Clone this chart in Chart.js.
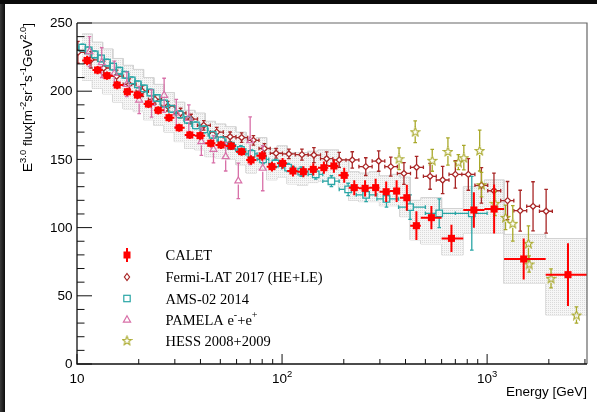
<!DOCTYPE html>
<html lang="en">
<head>
<meta charset="UTF-8">
<title>Electron + positron spectrum</title>
<script src="https://cdn.jsdelivr.net/npm/chart.js"></script>
<style>
  html, body { margin: 0; padding: 0; background: #fff; }
</style>
</head>
<body>
<canvas id="spectrum" width="597" height="412"></canvas>
<script>
// axis ranges
const xMin = 10, xMax = 3070, yMin = 0, yMax = 250;
const yTickLabels = ['0', '50', '100', '150', '200', '250'];
const xMajorTicks = [10, 100, 1000];
const xTickLabels = [['10', ''], ['10', '2'], ['10', '3']];

// CALET (filled squares) + its grey systematic band
const caletE = [11.2, 12.6, 14.0, 15.7, 17.6, 19.7, 22.3, 24.9, 28.1, 31.5, 35.5, 39.8, 44.9, 50.4, 56.5, 63.5, 70.6, 80.0, 89.3, 100.6,
                113, 127, 142, 160, 179, 201, 225, 254, 286, 322, 362, 406, 452, 535, 670, 862, 1082, 1508, 2480];
const caletFlux = [222.5, 215.5, 211.4, 204.5, 199.6, 197.2, 190.6, 186.0, 180.6, 173.2, 167.9, 167.4, 161.8, 160.6, 159.8, 155.7, 149.6, 152.6, 144.7, 147.1,
                   141.5, 141.0, 142.7, 143.9, 145.2, 138.3, 129.3, 128.8, 129.3, 126.3, 126.8, 121.9, 101.4, 107.3, 92.1, 112.9, 113.6, 77.0, 65.5];
const caletErr = [3.5, 3, 3, 3, 3, 3, 3, 3, 3, 3, 3, 3, 3, 3, 3, 3, 3.5, 3.5, 3.5, 4,
                  4, 4, 4.5, 4.5, 5, 5.5, 5.5, 6, 6.5, 7.5, 8, 9.5, 10.5, 8.5, 10, 13, 18, 15, 23];
const caletEdges = [10.59, 11.89, 13.34, 14.96, 16.79, 18.84, 21.13, 23.71, 26.61, 29.85, 33.50, 37.58, 42.17, 47.32, 53.09, 59.57, 66.83, 74.99, 84.14, 94.41,
                    105.9, 118.9, 133.4, 149.6, 167.9, 188.4, 211.3, 237.1, 266.1, 298.5, 335.0, 375.8, 421.7, 475, 600, 765, 970, 1210, 1930, 3160];
const caletSysLo = [208, 202, 198, 192, 187, 185, 179, 175, 170, 163, 158, 157, 152, 151, 150, 146, 140, 143, 135, 137,
                    132, 131, 133, 134, 136, 129, 120, 119, 119, 116, 116, 108, 91, 88, 80, 96, 96, 59, 36];
const caletSysHi = [242, 236, 231, 224, 219, 216, 210, 205, 199, 192, 186, 184, 178, 176, 174, 170, 164, 166, 158, 160,
                    155, 155, 156, 157, 157, 150, 141, 140, 141, 138, 139, 137, 120, 122, 114, 130, 135, 95, 92];

// Fermi-LAT 2017 (HE+LE)
const fermiE = [10.1, 11.7, 13.5, 15.6, 18.0, 20.8, 24.0, 27.7, 32.0, 36.0, 41.5, 48.0, 55.8, 63.5, 72.5, 82, 93.5, 108, 125, 143,
                165, 190, 220, 256, 296, 339, 393, 453, 527, 607, 700, 810, 938, 1080, 1258, 1450, 1675, 1940];
const fermiFlux = [228.5, 223, 217, 211, 205, 200, 194, 189, 184, 179.6, 175, 170, 166.6, 166, 164, 158, 154.5, 154, 153.5, 153.2,
                   150.5, 149.6, 149.6, 144.7, 148.8, 144.7, 139.7, 144.2, 137.6, 134.9, 139, 139, 131, 127, 119.8, 112.4, 115.6, 112];
const fermiErr = [8, 6, 5, 4.5, 4, 4, 3.5, 3.5, 3.5, 3.5, 3.5, 3.5, 3.5, 3.5, 3.5, 3.5, 3.5, 3.5, 4, 5.5,
                  5, 5.5, 6, 6.5, 7.5, 7, 8, 8, 9.5, 10, 10, 11.6, 13, 13, 14, 15, 18, 16];
const fermiEdges = [9.4, 10.9, 12.6, 14.5, 16.8, 19.4, 22.3, 25.8, 29.8, 34.0, 38.7, 44.7, 51.7, 59.6, 68.0, 77.2, 87.6, 100.5, 116, 134,
                    154, 177, 205, 237, 275, 317, 365, 423, 489, 565, 652, 753, 872, 1007, 1165, 1350, 1560, 1800, 2080];

// AMS-02 2014
const amsE = [10.6, 11.4, 12.2, 13.1, 14.0, 15.0, 16.1, 17.2, 18.5, 19.8, 21.2, 22.8, 24.5, 26.6, 29.0, 31.7, 34.7, 38.0, 41.7, 45.9,
              50.7, 56.3, 63.0, 71.0, 80.8, 92.8, 107, 124, 146, 174, 210, 257, 323, 421, 584, 842];
const amsFlux = [232, 230, 227, 224, 221, 218, 215, 212, 208, 205, 202, 199, 195, 191, 187, 183, 179, 175, 172, 168,
                 164, 160, 157, 154, 150, 147, 144, 141, 139, 134, 128, 124, 121, 115, 110.5, 110.5];
const amsErr = [2.5, 2.5, 2.5, 2.5, 2.5, 2.5, 2.5, 2.5, 2.5, 2.5, 2.5, 2.5, 2.5, 2.5, 2.5, 2.5, 2.5, 2.5, 2.5, 2.5,
                2.5, 2.5, 3, 3, 3, 3, 3, 3.5, 3.5, 4, 4.5, 5, 6, 9, 10.5, 27];
const amsEdges = [10.2, 11.0, 11.8, 12.6, 13.6, 14.5, 15.6, 16.6, 17.9, 19.2, 20.5, 22.0, 23.6, 25.4, 27.9, 30.2, 33.2, 36.3, 39.8, 43.6,
                  48.2, 53.3, 59.4, 66.6, 75.6, 86.2, 99.6, 115, 134, 158, 190, 230, 290, 370, 500, 700, 1000];

// PAMELA e- + e+
const pamelaE = [11.5, 13.2, 15.2, 17.5, 20.1, 23.1, 26.6, 30.5, 35.1, 40.4, 46.3, 53.1, 61.2, 69.9, 80.5];
const pamelaFlux = [229, 221, 213, 205, 193.5, 191, 197, 184, 180, 163, 157.4, 152, 134.2, 163.7, 143.5];
const pamelaErr = [11, 11, 9, 9, 10, 10, 12.5, 10, 10, 10, 10, 10.5, 13, 17.5, 16.5];

// HESS 2008+2009
const hessE = [372, 446, 540, 644, 724, 770, 920, 939, 1092, 1230, 1334, 1591, 1603, 2050, 2727];
const hessFlux = [150.5, 170.3, 149.3, 155.8, 148, 151.3, 156.5, 131.5, 117.8, 107.5, 103.1, 88.5, 73.3, 62.8, 35.9];
const hessErr = [8, 8, 8, 10, 5.5, 9, 15, 9, 9, 9, 13, 12.8, 6, 7, 6];

const legendLabels = ['CALET', 'Fermi-LAT 2017 (HE+LE)', 'AMS-02 2014', 'PAMELA e-+e+', 'HESS 2008+2009'];

const colCalet = '#ff0000', colFermi = '#a82626', colAms = '#2aa6a6', colPamela = '#d870a8', colHess = '#a8a828';

const canvas = document.getElementById('spectrum');
const mainCtx = canvas.getContext('2d');

function makeStar(color) {
  const c = document.createElement('canvas');
  c.width = 11; c.height = 11;
  const g = c.getContext('2d');
  g.strokeStyle = color; g.lineWidth = 1.1;
  g.beginPath();
  for (let k = 0; k < 10; k++) {
    const r = k % 2 ? 2.0 : 4.7;
    const a = -Math.PI / 2 + k * Math.PI / 5;
    const px = 5.5 + r * Math.cos(a), py = 5.9 + r * Math.sin(a);
    if (k) g.lineTo(px, py); else g.moveTo(px, py);
  }
  g.closePath(); g.stroke();
  return c;
}

function makeDots() {
  const c = document.createElement('canvas');
  c.width = 2; c.height = 2;
  const g = c.getContext('2d');
  g.fillStyle = '#f6f6f6'; g.fillRect(0, 0, 2, 2);
  g.fillStyle = '#dadada'; g.fillRect(0, 0, 1, 1);
  return mainCtx.createPattern(c, 'repeat');
}

const starImg = makeStar(colHess);
const pts = (xs, ys) => xs.map((x, i) => ({ x: x, y: ys[i] }));

// band outline: flat across each CALET bin
const bandHi = [], bandLo = [];
caletE.forEach((e, i) => {
  bandHi.push({ x: caletEdges[i], y: caletSysHi[i] }, { x: caletEdges[i + 1], y: caletSysHi[i] });
  bandLo.push({ x: caletEdges[i], y: caletSysLo[i] }, { x: caletEdges[i + 1], y: caletSysLo[i] });
});

function drawErrorBars(chart, ds) {
  const g = chart.ctx, xs = chart.scales.x, ys = chart.scales.y, a = chart.chartArea;
  const gap = ds.errGap || 0, cap = ds.errCap || 0;
  g.save();
  g.beginPath(); g.rect(a.left, a.top, a.right - a.left, a.bottom - a.top); g.clip();
  g.strokeStyle = ds.errColor; g.lineWidth = ds.errWidth;
  g.beginPath();
  ds.data.forEach((p, i) => {
    const px = xs.getPixelForValue(p.x), py = ys.getPixelForValue(p.y);
    const yTop = ys.getPixelForValue(p.y + ds.errY[i]);
    const yBot = ys.getPixelForValue(p.y - ds.errY[i]);
    if (py - gap > yTop) { g.moveTo(px, py - gap); g.lineTo(px, yTop); }
    if (py + gap < yBot) { g.moveTo(px, py + gap); g.lineTo(px, yBot); }
    if (cap) {
      g.moveTo(px - cap, yTop); g.lineTo(px + cap, yTop);
      g.moveTo(px - cap, yBot); g.lineTo(px + cap, yBot);
    }
    if (ds.xEdges) {
      const xl = xs.getPixelForValue(ds.xEdges[i]), xr = xs.getPixelForValue(ds.xEdges[i + 1]);
      if (px - gap > xl) { g.moveTo(px - gap, py); g.lineTo(xl, py); }
      if (px + gap < xr) { g.moveTo(px + gap, py); g.lineTo(xr, py); }
      if (cap) {
        g.moveTo(xl, py - cap); g.lineTo(xl, py + cap);
        g.moveTo(xr, py - cap); g.lineTo(xr, py + cap);
      }
    }
  });
  g.stroke();
  g.restore();
}

// text with superscripts: parts = [[text, isSup], ...]
function drawRich(g, parts, x, y, align, size, family) {
  const widths = parts.map(([t, s]) => {
    g.font = (s ? size * 0.7 : size) + 'px ' + family;
    return g.measureText(t).width;
  });
  const total = widths.reduce((p, q) => p + q, 0);
  let cx = align === 'right' ? x - total : align === 'center' ? x - total / 2 : x;
  g.textAlign = 'left'; g.textBaseline = 'alphabetic';
  parts.forEach(([t, s], i) => {
    g.font = (s ? size * 0.7 : size) + 'px ' + family;
    g.fillText(t, cx, s ? y - size * 0.42 : y);
    cx += widths[i];
  });
}

function legendMarker(g, i, x, y) {
  g.save();
  g.lineWidth = 1.2;
  if (i === 0) {
    g.fillStyle = colCalet; g.fillRect(x - 3.5, y - 3.5, 7, 7);
    g.fillRect(x - 1, y - 7, 2, 14);
  } else if (i === 1) {
    g.strokeStyle = colFermi; g.beginPath();
    g.moveTo(x, y - 3.5); g.lineTo(x + 2.6, y); g.lineTo(x, y + 3.5); g.lineTo(x - 2.6, y); g.closePath(); g.stroke();
  } else if (i === 2) {
    g.strokeStyle = colAms; g.strokeRect(x - 3.2, y - 3.2, 6.4, 6.4);
  } else if (i === 3) {
    g.strokeStyle = colPamela; g.beginPath();
    g.moveTo(x, y - 3.8); g.lineTo(x + 3.6, y + 2.6); g.lineTo(x - 3.6, y + 2.6); g.closePath(); g.stroke();
  } else {
    g.drawImage(starImg, x - 5.5, y - 5.5);
  }
  g.restore();
}

const decorPlugin = {
  id: 'decor',
  beforeDraw(chart) {
    const g = chart.ctx;
    g.save();
    g.fillStyle = '#fff'; g.fillRect(0, 0, chart.width, chart.height);
    const grd = g.createLinearGradient(0, 0, 5, 0);
    grd.addColorStop(0, '#3a3a3a'); grd.addColorStop(1, '#0c0c0c');
    g.fillStyle = grd; g.fillRect(0, 0, 5, chart.height);
    g.fillStyle = '#0a0a0a'; g.fillRect(0, 0, chart.width, 4);
    g.restore();
  },
  beforeDatasetDraw(chart, args) {
    const ds = chart.data.datasets[args.index];
    if (ds.errY) drawErrorBars(chart, ds);
  },
  afterDraw(chart) {
    const g = chart.ctx, a = chart.chartArea, xs = chart.scales.x, ys = chart.scales.y;
    g.save();
    // frame
    g.strokeStyle = '#666'; g.lineWidth = 1.2;
    g.beginPath(); g.moveTo(a.left, a.top); g.lineTo(a.right, a.top); g.lineTo(a.right, a.bottom); g.stroke();
    g.strokeStyle = '#111'; g.lineWidth = 1.3;
    g.beginPath(); g.moveTo(a.left, a.top); g.lineTo(a.left, a.bottom); g.lineTo(a.right, a.bottom); g.stroke();
    // y ticks
    g.lineWidth = 1;
    g.beginPath();
    for (let v = yMin; v <= yMax; v += 10) {
      const y = ys.getPixelForValue(v);
      const len = v % 50 === 0 ? 15 : 7.5;
      g.moveTo(a.left, y); g.lineTo(a.left + len, y);
    }
    // x ticks
    xMajorTicks.forEach(d => {
      for (let k = 1; k <= 9; k++) {
        const v = k * d;
        if (v < xMin || v > xMax) continue;
        const x = xs.getPixelForValue(v);
        g.moveTo(x, a.bottom); g.lineTo(x, a.bottom - (k === 1 ? 10 : 5));
      }
    });
    g.stroke();
    // tick labels
    g.fillStyle = '#000';
    g.font = '13.5px "Liberation Sans", Arial, sans-serif';
    g.textAlign = 'right'; g.textBaseline = 'middle';
    yTickLabels.forEach(t => g.fillText(t, a.left - 4.5, ys.getPixelForValue(Number(t)) + 0.5));
    xMajorTicks.forEach((v, i) => {
      const [base, sup] = xTickLabels[i];
      drawRich(g, sup ? [[base, false], [sup, true]] : [[base, false]], xs.getPixelForValue(v), a.bottom + 18.5, 'center', 13.5, '"Liberation Sans", Arial, sans-serif');
    });
    // axis titles
    drawRich(g, [['Energy [GeV]', false]], a.right, a.bottom + 32, 'right', 13.5, '"Liberation Sans", Arial, sans-serif');
    g.save();
    g.translate(31.5, a.top);
    g.rotate(-Math.PI / 2);
    drawRich(g, [['E', false], ['3.0', true], [' flux[m', false], ['-2', true], ['sr', false], ['-1', true],
                 ['s', false], ['-1', true], ['GeV', false], ['2.0', true], [']', false]],
             0, 0, 'right', 13.5, '"Liberation Sans", Arial, sans-serif');
    g.restore();
    // legend
    const legY = [255, 277, 298.5, 319.5, 340.5];
    legendLabels.forEach((lab, i) => {
      legendMarker(g, i, 127, legY[i]);
      g.fillStyle = '#000';
      const fam = '"Liberation Serif", "Times New Roman", serif';
      const parts = i === 3 ? [['PAMELA e', false], ['-', true], ['+e', false], ['+', true]] : [[lab, false]];
      drawRich(g, parts, 165.5, legY[i] + 5, 'left', 14.5, fam);
    });
    g.restore();
  }
};

new Chart(canvas, {
  type: 'scatter',
  data: {
    datasets: [
      {
        label: 'CALET', data: pts(caletE, caletFlux), order: 0,
        pointStyle: 'rect', pointRadius: 5, backgroundColor: colCalet, borderColor: colCalet, borderWidth: 0,
        errY: caletErr, xEdges: caletEdges, errColor: colCalet, errWidth: 2, errGap: 0, errCap: 0
      },
      {
        label: 'HESS 2008+2009', data: pts(hessE, hessFlux), order: 1,
        pointStyle: starImg, pointRadius: 5,
        errY: hessErr, errColor: colHess, errWidth: 1.3, errGap: 4.5, errCap: 1.8
      },
      {
        label: 'PAMELA', data: pts(pamelaE, pamelaFlux), order: 2,
        pointStyle: 'triangle', pointRadius: 4, backgroundColor: 'rgba(0,0,0,0)', borderColor: colPamela, borderWidth: 1.2,
        errY: pamelaErr, errColor: colPamela, errWidth: 1.3, errGap: 3.5, errCap: 1.8
      },
      {
        label: 'AMS-02 2014', data: pts(amsE, amsFlux), order: 3,
        pointStyle: 'rect', pointRadius: 4.6, backgroundColor: 'rgba(0,0,0,0)', borderColor: colAms, borderWidth: 1.3,
        errY: amsErr, xEdges: amsEdges, errColor: colAms, errWidth: 1.3, errGap: 3.3, errCap: 1.8
      },
      {
        label: 'Fermi-LAT 2017', data: pts(fermiE, fermiFlux), order: 4,
        pointStyle: 'rectRot', pointRadius: 3, backgroundColor: '#fff', borderColor: colFermi, borderWidth: 1.3,
        errY: fermiErr, xEdges: fermiEdges, errColor: colFermi, errWidth: 1.3, errGap: 3, errCap: 1.8
      },
      {
        type: 'line', label: 'band hi', data: bandHi, order: 5,
        borderColor: '#d2d2d2', borderWidth: 1, pointRadius: 0, tension: 0,
        fill: '+1', backgroundColor: makeDots()
      },
      {
        type: 'line', label: 'band lo', data: bandLo, order: 6,
        borderColor: '#d2d2d2', borderWidth: 1, pointRadius: 0, tension: 0, fill: false
      }
    ]
  },
  options: {
    responsive: false,
    animation: false,
    devicePixelRatio: 1,
    layout: { padding: { left: 77, top: 23, right: 10, bottom: 48 } },
    scales: {
      x: { type: 'logarithmic', min: xMin, max: xMax, display: false },
      y: { type: 'linear', min: yMin, max: yMax, display: false }
    },
    plugins: { legend: { display: false }, tooltip: { enabled: false } }
  },
  plugins: [decorPlugin]
});
</script>
</body>
</html>
